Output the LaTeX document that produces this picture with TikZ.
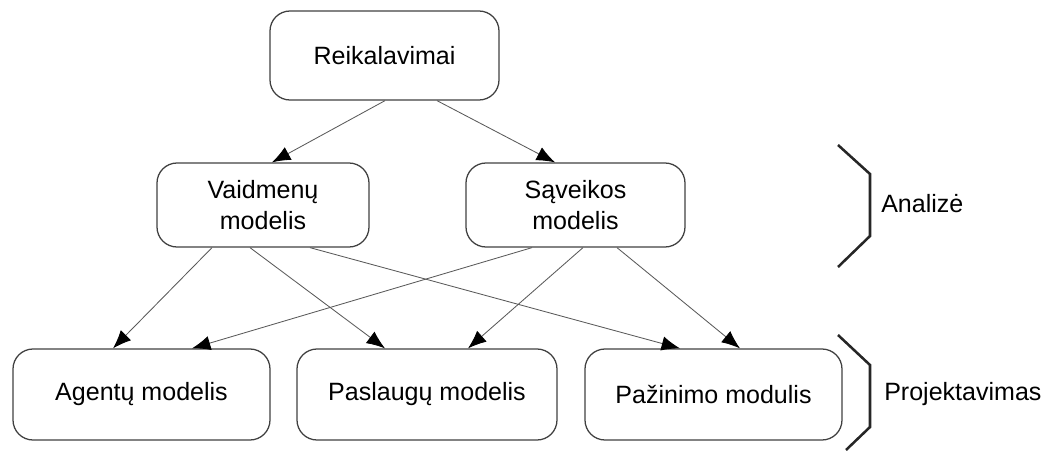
\documentclass[tikz,border=0pt]{standalone}
\usepackage{fontspec}
\setmainfont{Liberation Sans}
\usetikzlibrary{arrows.meta,calc}

\tikzset{
  modelbox/.style={draw=black!75,line width=0.9pt,rounded corners=0.5cm,
    align=center,inner sep=0pt,font=\fontsize{17.8}{22}\selectfont},
  arr/.style={draw=black!65,line width=0.6pt,
    -{Latex[length=4.6mm,width=3.6mm,black]}},
  brace/.style={draw=black!85,line width=1.8pt},
  phase/.style={anchor=west,inner sep=0pt,font=\fontsize{17.8}{22}\selectfont}
}

\begin{document}
\begin{tikzpicture}[x=0.025cm,y=-0.025cm]
    \useasboundingbox (0,0) rectangle (1048,450);

    % virsus
    \node [modelbox,minimum width=229*0.025cm,minimum height=89*0.025cm] (reik) at (384.5,55.5) {Reikalavimai};

    % analize
    \node [modelbox,minimum width=212*0.025cm,minimum height=84*0.025cm] (vaid) at (263,205) {Vaidmenų\\modelis};
    \node [modelbox,minimum width=219*0.025cm,minimum height=84*0.025cm] (sav) at (575.5,205) {Sąveikos\\modelis};

    % projektavimas
    \node [modelbox,minimum width=257*0.025cm,minimum height=91*0.025cm] (agent) at (141.5,394.5) {Agentų modelis};
    \node [modelbox,minimum width=260*0.025cm,minimum height=91*0.025cm] (pasl) at (427,394.5) {Paslaugų modelis};
    \node [modelbox,minimum width=257*0.025cm,minimum height=91*0.025cm] (paz) at (713.5,394.5) {Pažinimo modulis};

    % rodykles
    \draw [arr] ($(reik.south)+(0.5,0)$) -- ($(vaid.north)+(9,0)$);
    \draw [arr] ($(reik.south)+(52.5,0)$) -- ($(sav.north)+(-20.5,0)$);

    \draw [arr] ($(vaid.south)+(-51,0)$) -- ($(agent.north)+(-28.5,0)$);
    \draw [arr] ($(vaid.south)+(-13,0)$) -- ($(pasl.north)+(-42,0)$);
    \draw [arr] ($(vaid.south)+(47,0)$) -- ($(paz.north)+(-33.5,0)$);

    \draw [arr] ($(sav.south)+(-43.5,0)$) -- ($(agent.north)+(50.5,0)$);
    \draw [arr] ($(sav.south)+(7.5,0)$) -- ($(pasl.north)+(41,0)$);
    \draw [arr] ($(sav.south)+(41.5,0)$) -- ($(paz.north)+(26.5,0)$);

    % skliaustai
    \draw [brace] (838,145) -- (870,174) -- (870,236) -- (838,267);
    \node [phase] (anal) at (881,204) {Analizė};

    \draw [brace] (838,335) -- (870,365) -- (870,427) -- (846,450);
    \node [phase] (proj) at (884,394) {Projektavimas};
\end{tikzpicture}
\end{document}
